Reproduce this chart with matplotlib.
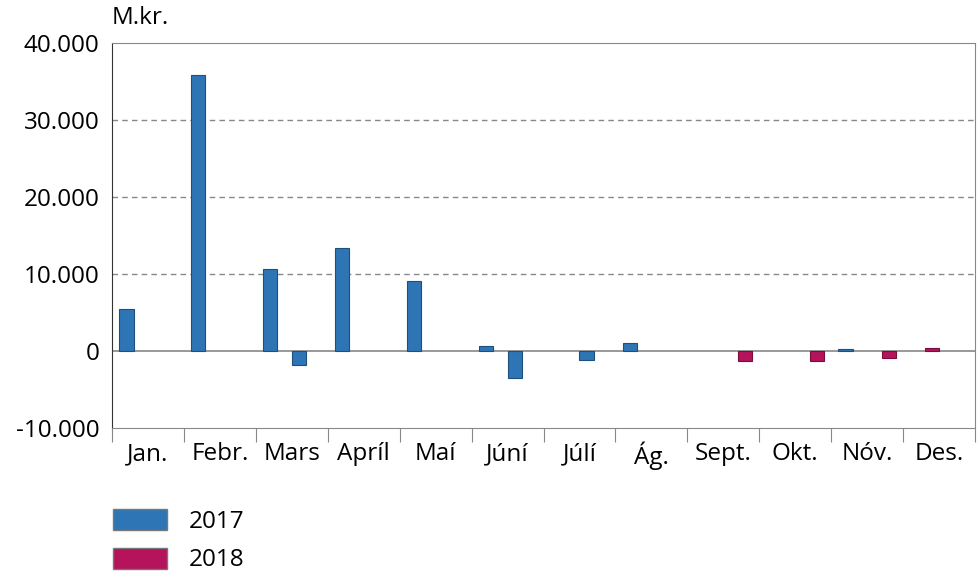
import matplotlib.pyplot as plt
import matplotlib.patches as mpatches
import numpy as np

months = ["Jan.", "Febr.", "Mars", "Apríl", "Maí", "Júní",
          "Júlí", "Ág.", "Sept.", "Okt.", "Nóv.", "Des."]

# four bar slots per month: 2017 / 2018 / 2017 / 2018
s2017_a = [5400, 35800, 10600, 13400, 9100, 600, 0, 1100, 0, 0, 300, 0]
s2018_a = [0, 0, 0, 0, 0, 0, 0, 0, 0, 0, 0, 400]
s2017_b = [0, 0, -1800, 0, 0, -3500, -1200, 0, 0, 0, 0, 0]
s2018_b = [0, 0, 0, 0, 0, 0, 0, 0, -1250, -1300, -900, 0]

blue = "#2e75b6"
red = "#b5135b"
fs = 17.5

plt.rcParams["font.family"] = ["Open Sans", "DejaVu Sans"]

fig = plt.figure(figsize=(9.77, 5.8), dpi=100)
ax = fig.add_axes([112 / 977, 1 - 428 / 580, 863 / 977, 385 / 580])

x = np.arange(len(months))
w = 0.2
series = [(s2017_a, blue, "#1f4f7d"), (s2018_a, red, "#7a0d3d"),
          (s2017_b, blue, "#1f4f7d"), (s2018_b, red, "#7a0d3d")]
for i, (vals, col, edge) in enumerate(series):
    vals = np.array(vals, dtype=float)
    keep = vals != 0
    ax.bar(x[keep] + (i - 1.5) * w, vals[keep], w, color=col, edgecolor=edge,
           linewidth=0.8, zorder=3)

ax.set_xlim(-0.5, 11.5)
ax.set_ylim(-10000, 40000)
ax.set_yticks(range(-10000, 40001, 10000))
ax.set_yticklabels([f"{v:,}".replace(",", ".") for v in range(-10000, 40001, 10000)],
                   fontsize=fs)
ax.tick_params(axis="y", length=0, pad=9)

for v in (10000, 20000, 30000):
    ax.axhline(v, color="#888888", linestyle=(0, (4, 3)), linewidth=1, zorder=1)
ax.axhline(0, color="#888888", linewidth=1.2, zorder=2)

ax.set_xticks(np.arange(-0.5, 12, 1))
ax.set_xticklabels([])
ax.set_xticks(x, minor=True)
ax.set_xticklabels(months, minor=True, fontsize=fs)
ax.tick_params(axis="x", which="major", length=10, color="#888888")
ax.tick_params(axis="x", which="minor", length=0, pad=10)

for side in ("top", "right", "bottom"):
    ax.spines[side].set_color("#888888")
ax.spines["left"].set_color("#333333")

fig.text(112 / 977, 1 - 18 / 580, "M.kr.", fontsize=fs, va="center", ha="left")

handles = [mpatches.Patch(facecolor=blue, edgecolor="#777777", label="2017"),
           mpatches.Patch(facecolor=red, edgecolor="#777777", label="2018")]
fig.legend(handles=handles, loc="upper left", bbox_to_anchor=(94 / 977, 1 - 490 / 580),
           frameon=False, fontsize=fs, handlelength=2.2, handleheight=0.95,
           labelspacing=0.55, handletextpad=0.9, borderpad=0.3)

fig.savefig("out.png", dpi=100)
